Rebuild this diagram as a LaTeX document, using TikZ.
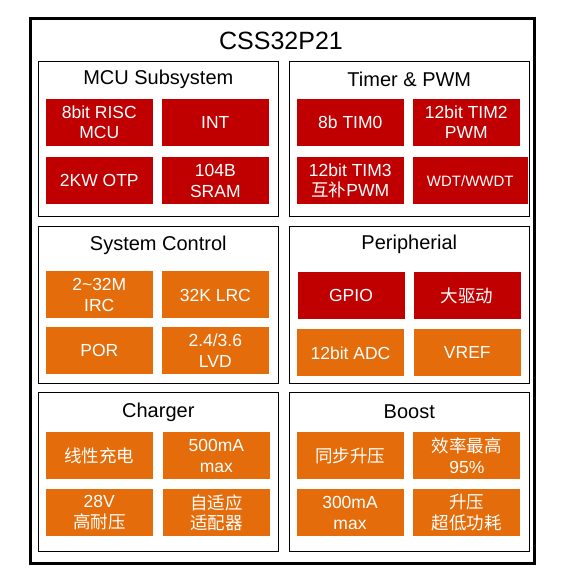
\documentclass[tikz,border=0pt]{standalone}
\usepackage{fontspec}
\setmainfont{Liberation Sans}
\newfontfamily\cjk{Noto Sans CJK SC}
\definecolor{chipred}{HTML}{C00000}
\definecolor{chiporange}{HTML}{E46C0A}

\begin{document}
\begin{tikzpicture}[x=1pt,y=-1pt,
    group/.style={draw,line width=1pt},
    group title/.style={font=\fontsize{20}{24}\selectfont},
    block/.style={minimum width=107pt,minimum height=47pt,inner sep=0pt,align=center,text=white,font=\fontsize{17.5}{20.7}\selectfont},
    red block/.style={block,fill=chipred},
    orange block/.style={block,fill=chiporange}]

    \useasboundingbox (0,0) rectangle (587,577);

    % chip outline
    \draw[line width=3pt] (30,19) rectangle (534,563);
    \node (chip) at (281,41) {\fontsize{25}{30}\selectfont CSS32P21};

    % groups
    \draw[group] (38.7,62) rectangle (278,217);
    \draw[group] (289.3,62) rectangle (529.3,217);
    \draw[group] (38.7,227) rectangle (278,384);
    \draw[group] (289.3,227) rectangle (529.3,384);
    \draw[group] (38.7,393) rectangle (278,551);
    \draw[group] (289.3,393) rectangle (529.3,551);

    \node[group title] (mcu) at (158.3,79) {MCU Subsystem};
    \node[group title] (tim) at (409.3,79) {Timer \& PWM};
    \node[group title] (sys) at (158.3,245) {System Control};
    \node[group title] (per) at (409.3,244) {Peripherial};
    \node[group title] (chg) at (158.3,412) {Charger};
    \node[group title] (bst) at (409.3,412) {Boost};

    % MCU Subsystem
    \node[red block] (m1) at (99.3,122.3) {8bit RISC\\MCU};
    \node[red block] (m2) at (215.3,122.3) {INT};
    \node[red block] (m3) at (99.3,180.8) {2KW OTP};
    \node[red block] (m4) at (215.3,180.8) {104B\\SRAM};

    % Timer & PWM
    \node[red block] (t1) at (350.3,122.3) {8b TIM0};
    \node[red block] (t2) at (466.3,122.3) {12bit TIM2\\PWM};
    \node[red block] (t3) at (350.3,180.8) {12bit TIM3\\{\cjk 互补}PWM};
    \node[red block,minimum width=115pt,font=\fontsize{15}{18}\selectfont] (t4) at (470.3,180.8) {WDT/WWDT};

    % System Control
    \node[orange block] (s1) at (99.3,295) {2\textasciitilde32M\\IRC};
    \node[orange block] (s2) at (215.3,295) {32K LRC};
    \node[orange block] (s3) at (99.3,350.8) {POR};
    \node[orange block] (s4) at (215.3,350.8) {2.4/3.6\\LVD};

    % Peripherial
    \node[red block] (p1) at (351,295.8) {GPIO};
    \node[red block] (p2) at (467,295.8) {\cjk 大驱动};
    \node[orange block] (p3) at (350.5,352.8) {12bit ADC};
    \node[orange block] (p4) at (467.3,352.8) {VREF};

    % Charger
    \node[orange block] (c1) at (99.3,455.8) {\cjk 线性充电};
    \node[orange block] (c2) at (216.3,455.8) {500mA\\max};
    \node[orange block] (c3) at (99.3,512.8) {28V\\{\cjk 高耐压}};
    \node[orange block] (c4) at (216.3,512.8) {\cjk 自适应\\\cjk 适配器};

    % Boost
    \node[orange block] (b1) at (350,455.8) {\cjk 同步升压};
    \node[orange block] (b2) at (466.8,455.8) {{\cjk 效率最高}\\95\%};
    \node[orange block] (b3) at (350,512.8) {300mA\\max};
    \node[orange block] (b4) at (466.8,512.8) {\cjk 升压\\\cjk 超低功耗};

\end{tikzpicture}
\end{document}
